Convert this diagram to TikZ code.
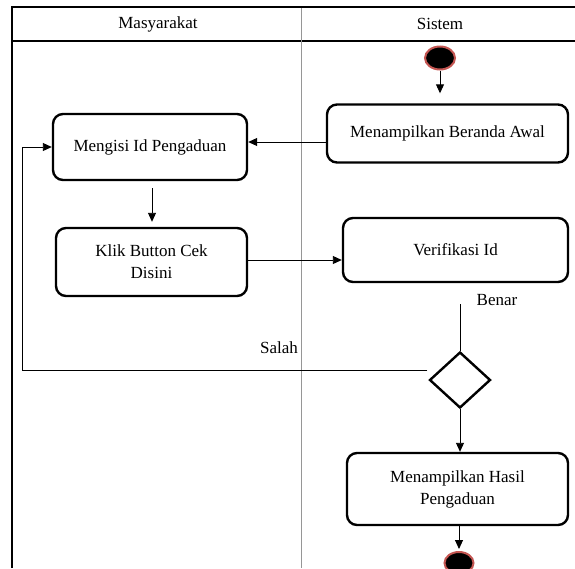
\documentclass[tikz,border=0pt]{standalone}
\usepackage{fontspec}
\setmainfont{Liberation Serif}
\usetikzlibrary{arrows.meta,shapes.geometric}
\definecolor{dotrim}{RGB}{196,86,82}
\definecolor{lanegray}{RGB}{150,150,150}
\begin{document}
\begin{tikzpicture}[x=1pt,y=-1pt,
  every node/.style={font=\fontsize{17}{22}\selectfont},
  action/.style={draw, line width=2.4pt, rounded corners=10pt, align=center, inner sep=0pt},
  terminal/.style={ellipse, fill=black, draw=dotrim, line width=2pt, inner sep=0pt},
  flow/.style={line width=0.9pt, -{Triangle[length=9pt,width=8pt]}},
  plain/.style={line width=0.9pt}]
\useasboundingbox (0,0) rectangle (575,568);
% swimlane frame
\draw[line width=2.8pt] (12,568) -- (12,7) -- (576,7);
\draw[line width=1.3pt] (12,41) -- (576,41);
\draw[lanegray, line width=1pt] (301,8) -- (301,568);
\node (hm) at (158,24) {Masyarakat};
\node (hs) at (440,24) {Sistem};
% activities
\node[terminal, minimum width=30pt, minimum height=23pt] (start) at (440,58) {};
\node[action, minimum width=241pt, minimum height=58pt] (beranda) at (447.5,133.5) {Menampilkan Beranda Awal};
\node[action, minimum width=194pt, minimum height=66pt] (mengisi) at (150,147) {Mengisi Id Pengaduan};
\node[action, minimum width=191pt, minimum height=68pt] (klik) at (151.5,262) {Klik Button Cek\\Disini};
\node[action, minimum width=225pt, minimum height=64pt] (verif) at (455.5,250) {Verifikasi Id};
\node[diamond, draw, line width=2.4pt, minimum width=61pt, minimum height=56pt, inner sep=0pt, aspect=1.09] (dec) at (460,380) {};
\node[action, minimum width=221pt, minimum height=72pt] (hasil) at (457.5,489) {Menampilkan Hasil\\Pengaduan};
\node[terminal, minimum width=29pt, minimum height=22pt] (stop) at (459,563) {};
% guard labels
\node (benar) at (497,300) {Benar};
\node (salah) at (279,348) {Salah};
% connectors
\draw[flow, shorten >=10pt] (start) -- (start |- beranda.north);
\coordinate (b1) at ([yshift=-8.5pt]beranda.west);
\draw[flow] (b1) -- (b1 -| mengisi.east);
\draw[flow, shorten <=7pt, shorten >=5pt] (mengisi.south -| 152,0) -- (klik.north -| 152,0);
\draw[flow] (klik.east |- 0,260) -- (verif.west |- 0,260);
\coordinate (v1) at ([yshift=-21pt]verif.south);
\draw[plain] (v1 -| dec.north) -- (dec.north);
\coordinate (s0) at ([yshift=10pt, xshift=-1pt]dec.west);
\coordinate (lret) at (22,147);
\draw[flow] (s0) -| (lret) -- (mengisi.west);
\draw[flow] (dec.south) -- (hasil.north -| dec.south);
\draw[flow, shorten >=2pt] (hasil.south -| stop.north) -- (stop.north);
\end{tikzpicture}
\end{document}
